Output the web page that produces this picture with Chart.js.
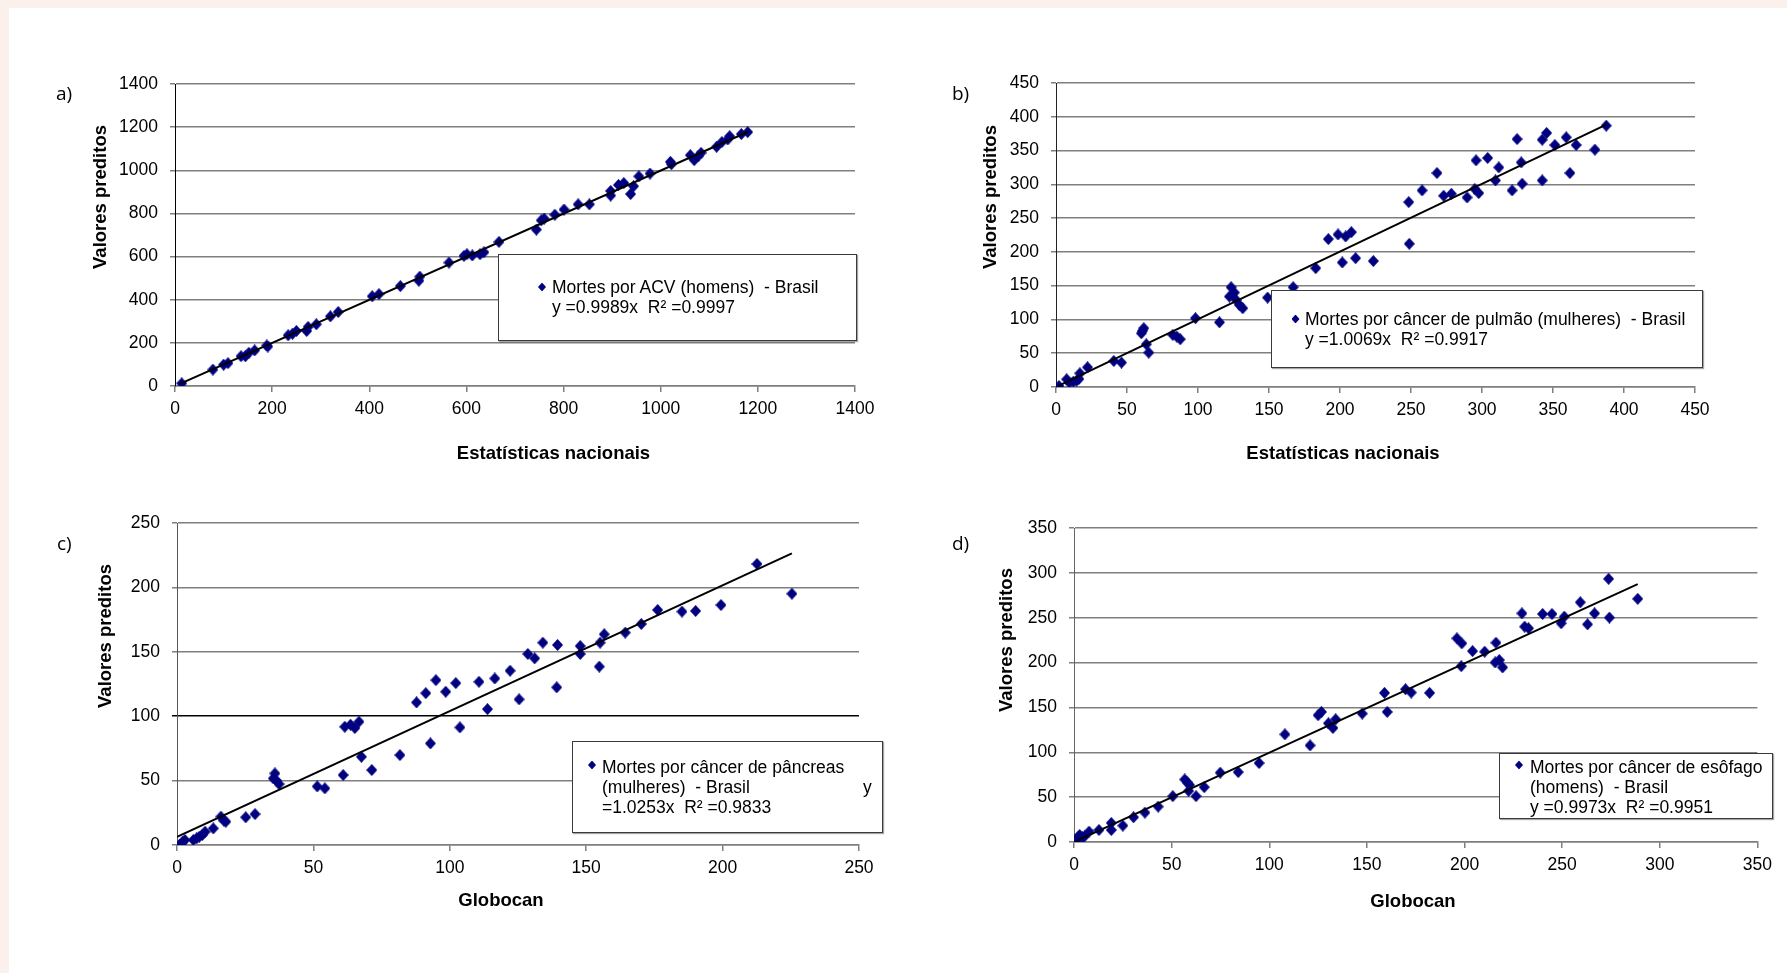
<!DOCTYPE html>
<html>
<head>
<meta charset="utf-8">
<script src="https://cdn.jsdelivr.net/npm/chart.js@4.4.1/dist/chart.umd.min.js"></script>
<style>
html,body{margin:0;padding:0;width:1787px;height:973px;overflow:hidden;background:#fbf0eb;}
#page{position:absolute;left:9px;top:8px;width:1778px;height:965px;background:#fff;}
canvas{position:absolute;}
.plbl{position:absolute;font-family:"Open Sans",sans-serif;font-size:19px;line-height:20px;color:#000;white-space:nowrap;}
.ytitle,.xtitle{position:absolute;font-family:"Liberation Sans",Arial,sans-serif;font-weight:bold;font-size:18.5px;color:#000;white-space:nowrap;line-height:22px;}
.ytitle{transform:translate(-50%,-50%) rotate(-90deg);}
.xtitle{transform:translate(-50%,-50%);}
.leg{position:absolute;background:#fff;border:1px solid #3a3a3a;box-sizing:border-box;box-shadow:1px 1px 1px rgba(0,0,0,0.35);}
.legtxt{position:absolute;font-family:"Liberation Sans",Arial,sans-serif;font-size:17.5px;line-height:20px;color:#000;white-space:pre;}
.dia{position:absolute;width:8px;height:9px;background:#000080;clip-path:polygon(50% 0,100% 50%,50% 100%,0 50%);transform:translate(-50%,-50%);}
</style>
</head>
<body>
<div id="page"></div>
<canvas id="cA"></canvas>
<canvas id="cB"></canvas>
<canvas id="cC"></canvas>
<canvas id="cD"></canvas>

<div class="plbl" style="left:56px;top:82.5px;">a)</div>
<div class="plbl" style="left:952px;top:82.5px;">b)</div>
<div class="plbl" style="left:57px;top:532.5px;">c)</div>
<div class="plbl" style="left:952px;top:533px;">d)</div>

<div class="ytitle" style="left:99.5px;top:197px;">Valores preditos</div>
<div class="ytitle" style="left:990px;top:197px;">Valores preditos</div>
<div class="ytitle" style="left:104.5px;top:636px;">Valores preditos</div>
<div class="ytitle" style="left:1005.5px;top:640px;">Valores preditos</div>

<div class="xtitle" style="left:553.5px;top:452.5px;">Estatísticas nacionais</div>
<div class="xtitle" style="left:1343px;top:452.5px;">Estatísticas nacionais</div>
<div class="xtitle" style="left:501px;top:900px;">Globocan</div>
<div class="xtitle" style="left:1413px;top:900.5px;">Globocan</div>

<div class="leg" style="left:498px;top:254px;width:359px;height:87px;"></div>
<div class="dia" style="left:542px;top:287px;"></div>
<div class="legtxt" style="left:552px;top:277px;">Mortes por ACV (homens)  - Brasil
y =0.9989x  R² =0.9997</div>

<div class="leg" style="left:1271px;top:290px;width:432px;height:78px;"></div>
<div class="dia" style="left:1295.5px;top:319px;"></div>
<div class="legtxt" style="left:1305px;top:309px;">Mortes por câncer de pulmão (mulheres)  - Brasil
y =1.0069x  R² =0.9917</div>

<div class="leg" style="left:572px;top:741px;width:311px;height:92px;"></div>
<div class="dia" style="left:592px;top:765px;"></div>
<div class="legtxt" style="left:602px;top:757px;">Mortes por câncer de pâncreas
(mulheres)  - Brasil
=1.0253x  R² =0.9833</div>
<div class="legtxt" style="left:863px;top:777px;">y</div>

<div class="leg" style="left:1499px;top:753px;width:274px;height:66px;"></div>
<div class="dia" style="left:1519px;top:765px;"></div>
<div class="legtxt" style="left:1530px;top:757px;">Mortes por câncer de esôfago
(homens)  - Brasil
y =0.9973x  R² =0.9951</div>

<script>
// ---------- DATA ----------
// a) Mortes por ACV (homens) - Estatísticas nacionais vs Valores preditos
const acvX = [13.8,78,100,109,136,145,152,164,189,191,233,242,250,271,274,291,320,336,406,420,464,502,504,564,595,601,612,628,636,667,744,754,760,782,801,830,853,897,897,913,924,938,944,955,978,1020,1022,1061,1069,1077,1083,1115,1126,1138,1142,1166,1179];
const acvY = [12.4,76,99,106,138,138,154,165,188,183,235,242,255,255,274,286,323,343,416,426,463,488,507,572,603,611,605,611,620,668,725,768,776,794,818,842,842,904,883,932,941,890,926,972,985,1039,1028,1070,1047,1065,1081,1109,1131,1143,1158,1168,1177];
const acvTrendX = [10,1180];
const acvTrendY = [10,1178.7];

// b) Mortes por câncer de pulmão (mulheres)
const pulmaoX = [2.1,7.5,9.4,12.2,14.5,16.1,16.8,22.2,40.7,46.1,60.1,61.8,60.8,63.6,65.3,82.3,85.1,87.5,98.2,115.1,123.3,125.6,122.1,126.8,129.1,131.5,149,167,182.9,191.8,198.6,201.6,204,208,211,223.5,248.4,248.8,257.8,268.3,273,278.4,289.5,295.8,294.9,297.7,304,309.5,311.8,321.2,324.7,327.6,328.3,342.4,342.4,345.5,351.3,359.3,361.9,366.3,379.5,387.5];
const pulmaoY = [1.5,11.4,6.4,7.9,9.4,11.9,20.3,29.2,38.5,36.1,79.5,87,83,63.2,50.9,77.1,74.6,70.7,101.8,95.8,147.7,139.8,133.9,129,121.5,116.6,132.3,147.7,175.9,218.9,225.8,184.3,222.8,229.2,190.7,186.5,273.7,212,291,316.7,283.1,286,280.6,335.5,293,287,339,305.8,325.1,291,367,332.5,300.9,305.8,366,376,358.2,369.6,316.7,358.2,351.3,386.9];
const pulmaoTrendX = [1.6,387.5];
const pulmaoTrendY = [1.6,388.3];

// c) Mortes por câncer de pâncreas (mulheres)
const pancreasX = [0.9,2.1,2.9,6,7.2,8.2,9.3,10.3,13.3,16.1,17.2,17.9,25.2,28.6,35.9,35.3,36.5,37.4,51.4,54.2,60.9,61.5,63.6,65.2,66.7,67.6,71.4,81.7,87.8,91.2,92.9,94.9,98.5,102.2,103.7,110.7,113.8,116.5,122.1,125.4,128.6,131.1,134.1,139.2,139.5,147.8,147.8,154.8,155.1,156.6,164.3,170.2,176.2,185.1,190.1,199.4,212.6,225.4];
const pancreasY = [0,2.6,3.9,3.9,5.2,6.5,7.8,10.3,12.9,22,18.9,18.1,21.5,24,55.6,51.7,49.9,47.3,45.5,44,54.3,91.8,93.4,90.8,95.7,68.5,58.2,69.8,110.7,117.9,78.9,128,119,125.7,91.3,126.7,105.5,129.3,135.3,113.1,148.3,144.9,157.1,122.4,155.3,154.5,148.3,138.5,157.1,163.6,164.9,171.6,182.5,181.2,181.7,186.3,218.2,195.1];
const pancreasTrendX = [0,225.4];
const pancreasTrendY = [6.3,226.4];

// d) Mortes por câncer de esôfago (homens)
const esofagoX = [1.2,2,2.9,4.3,5.4,7.7,12.8,19.1,19.1,25,30.5,36.3,43.1,50.6,56.7,57.9,59.1,58.7,62.5,66.7,74.9,84.1,94.8,108,120.9,125,126.7,130.3,132.6,134,147.6,159,160.4,169.8,172.7,182.1,196.1,198.6,198.3,204.1,210.3,216.1,215.7,217.8,219.5,229.4,230.8,232.8,240,244.8,249.5,251.1,259.3,263,266.6,273.8,274.2,288.7];
const esofagoY = [1.5,5.2,7.8,5.2,6.3,11.6,13.4,21.2,13.4,18.3,27.6,32.8,39.5,51.1,69.7,66.7,63.7,57,51.1,61.1,77.2,77.9,88,120,107.7,141.3,145,132.3,127.1,136.8,143.1,166.2,145,170.3,166.6,166.2,227,221.4,196,212.8,212.1,222.1,200.1,202.8,194.6,254.9,240,238.2,254.2,254.2,243.8,251.2,267.2,242.6,254.9,293.3,250.1,271];
const esofagoTrendX = [1,288.7];
const esofagoTrendY = [1,287.4];

// axis ranges / tick steps
const axisA = {max:1400, step:200};
const axisB = {max:450, step:50};
const axisC = {max:250, step:50};
const axisD = {max:350, step:50};

// ---------- RENDER ----------
function diamondImage(w, h, color) {
  const c = document.createElement('canvas');
  c.width = w; c.height = h;
  const g = c.getContext('2d');
  g.fillStyle = color;
  g.beginPath();
  g.moveTo(w/2, 0); g.lineTo(w, h/2); g.lineTo(w/2, h); g.lineTo(0, h/2);
  g.closePath(); g.fill();
  return c;
}
const diamond = diamondImage(11, 12, '#000080');

function zip(xs, ys) { return xs.map((x, i) => ({x: x, y: ys[i]})); }

const tickFont = {family: '"Liberation Sans", Arial, sans-serif', size: 17.5};
const YW = 60, XH = 40;

function makeChart(id, box, area, axis, xs, ys, tx, ty, yBorder, blackGridValue) {
  const cv = document.getElementById(id);
  cv.width = box.w; cv.height = box.h;
  cv.style.left = box.x + 'px'; cv.style.top = box.y + 'px';
  cv.style.width = box.w + 'px'; cv.style.height = box.h + 'px';
  const pad = {
    left: area.l - box.x - YW,
    top: area.t - box.y,
    right: box.x + box.w - area.r,
    bottom: box.y + box.h - area.b - XH
  };
  return new Chart(cv, {
    type: 'scatter',
    data: {
      datasets: [
        {type: 'line', data: zip(tx, ty), borderColor: '#000', borderWidth: 2, pointRadius: 0, fill: false, order: 0, tension: 0},
        {type: 'scatter', data: zip(xs, ys), pointStyle: diamond, pointRadius: 6, backgroundColor: '#000080', borderColor: '#000080', order: 1}
      ]
    },
    options: {
      responsive: false, animation: false, devicePixelRatio: 1,
      layout: {padding: pad},
      plugins: {legend: {display: false}, tooltip: {enabled: false}},
      scales: {
        x: {
          type: 'linear', min: 0, max: axis.max,
          ticks: {stepSize: axis.step, font: tickFont, color: '#000', padding: 7, maxRotation: 0, autoSkip: false, callback: v => String(v)},
          grid: {drawOnChartArea: false, drawTicks: true, tickLength: 6, color: '#7f7f7f', lineWidth: 1.5},
          border: {display: true, color: '#7f7f7f', width: 1.5},
          afterFit: s => { s.height = XH; }
        },
        y: {
          type: 'linear', min: 0, max: axis.max,
          ticks: {stepSize: axis.step, font: tickFont, color: '#000', padding: 12, autoSkip: false, callback: v => String(v)},
          grid: {drawOnChartArea: true, drawTicks: true, tickLength: 5,
                 color: c => (blackGridValue !== null && c.tick && c.tick.value === blackGridValue) ? '#000' : '#7f7f7f',
                 lineWidth: 1.5},
          border: {display: true, color: yBorder, width: 1},
          afterFit: s => { s.width = YW; }
        }
      }
    }
  });
}

makeChart('cA', {x:9, y:8, w:890, h:472}, {l:175, t:84, r:855, b:386}, axisA, acvX, acvY, acvTrendX, acvTrendY, '#000', null);
makeChart('cB', {x:899, y:8, w:880, h:472}, {l:1056, t:83, r:1695, b:387}, axisB, pulmaoX, pulmaoY, pulmaoTrendX, pulmaoTrendY, '#222', null);
makeChart('cC', {x:9, y:480, w:890, h:480}, {l:177, t:523, r:859, b:845}, axisC, pancreasX, pancreasY, pancreasTrendX, pancreasTrendY, '#555', 100);
makeChart('cD', {x:899, y:480, w:880, h:480}, {l:1074, t:528, r:1759, b:842}, axisD, esofagoX, esofagoY, esofagoTrendX, esofagoTrendY, '#666', null);
</script>
</body>
</html>
